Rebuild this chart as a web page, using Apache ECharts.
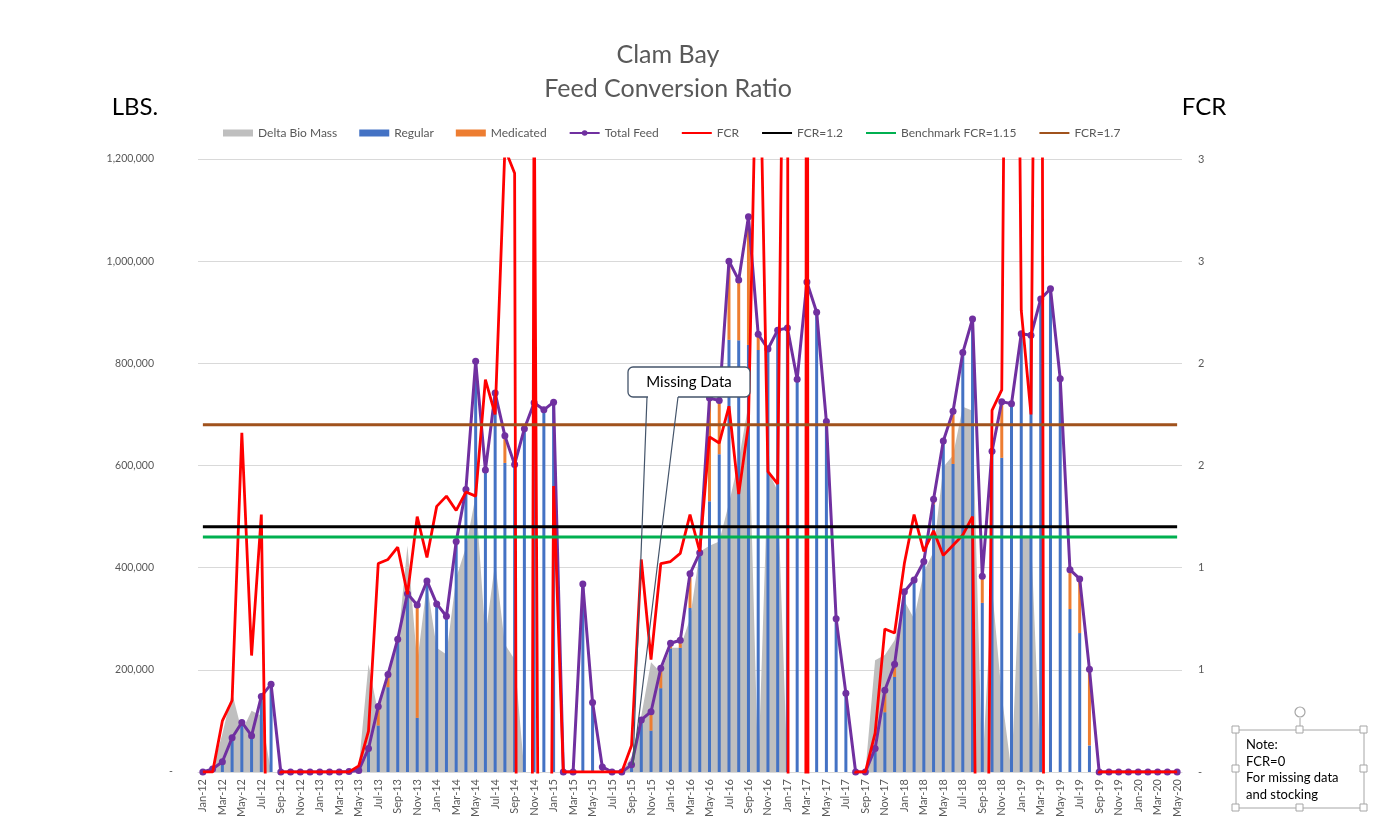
<!DOCTYPE html>
<html>
<head>
<meta charset="utf-8">
<script src="https://cdn.jsdelivr.net/npm/echarts@6/dist/echarts.min.js"></script>
<style>
html, body { margin: 0; padding: 0; background: #fff; }
#main { width: 1383px; height: 832px; }
</style>
</head>
<body>
<div id="main"></div>
<script>
var months = [
    'Jan-12','Feb-12','Mar-12','Apr-12','May-12','Jun-12','Jul-12','Aug-12','Sep-12','Oct-12','Nov-12','Dec-12',
    'Jan-13','Feb-13','Mar-13','Apr-13','May-13','Jun-13','Jul-13','Aug-13','Sep-13','Oct-13','Nov-13','Dec-13',
    'Jan-14','Feb-14','Mar-14','Apr-14','May-14','Jun-14','Jul-14','Aug-14','Sep-14','Oct-14','Nov-14','Dec-14',
    'Jan-15','Feb-15','Mar-15','Apr-15','May-15','Jun-15','Jul-15','Aug-15','Sep-15','Oct-15','Nov-15','Dec-15',
    'Jan-16','Feb-16','Mar-16','Apr-16','May-16','Jun-16','Jul-16','Aug-16','Sep-16','Oct-16','Nov-16','Dec-16',
    'Jan-17','Feb-17','Mar-17','Apr-17','May-17','Jun-17','Jul-17','Aug-17','Sep-17','Oct-17','Nov-17','Dec-17',
    'Jan-18','Feb-18','Mar-18','Apr-18','May-18','Jun-18','Jul-18','Aug-18','Sep-18','Oct-18','Nov-18','Dec-18',
    'Jan-19','Feb-19','Mar-19','Apr-19','May-19','Jun-19','Jul-19','Aug-19','Sep-19','Oct-19','Nov-19','Dec-19',
    'Jan-20','Feb-20','Mar-20','Apr-20','May-20'
];

// lbs
var deltaBioMass = [
    0, 5000, 75000, 155000, 80000, 120000, 110000, 0, 0, 0, 0, 0,
    0, 0, 0, 0, 10000, 211000, 115000, 200000, 250000, 443000, 215000, 368000,
    243000, 230000, 380000, 440000, 541000, 266000, 410000, 250000, 220000, 0, 0, 0,
    0, 0, 0, 0, 0, 0, 0, 0, 30000, 110000, 215000, 195000,
    243000, 243000, 300000, 431000, 443000, 451000, 526000, 610000, 720000, 0, 590000, 550000,
    0, 0, 0, 0, 0, 0, 0, 0, 0, 219000, 229000, 258000,
    335000, 300000, 392000, 431000, 597000, 620000, 715000, 707000, 0, 360000, 150000, 0,
    463000, 463000, 0, 0, 0, 0, 0, 0, 0, 0, 0, 0,
    0, 0, 0, 0, 0
];

var regular = [
    0, 6000, 20000, 67000, 97000, 71000, 148000, 172000, 0, 0, 0, 0,
    0, 0, 0, 1000, 3000, 46000, 91000, 166000, 260000, 349000, 106000, 374000,
    329000, 305000, 451000, 553000, 804000, 591000, 742000, 605000, 602000, 672000, 723000, 709000,
    724000, 0, 0, 368000, 136000, 10000, 0, 0, 14000, 102000, 81000, 164000,
    242000, 243000, 321000, 429000, 530000, 622000, 846000, 845000, 836000, 826000, 828000, 865000,
    869000, 769000, 959000, 900000, 686000, 300000, 154000, 0, 0, 46000, 117000, 186000,
    353000, 376000, 412000, 524000, 648000, 603000, 821000, 887000, 331000, 628000, 615000, 721000,
    858000, 855000, 926000, 946000, 770000, 319000, 272000, 52000, 0, 0, 0, 0,
    0, 0, 0, 0, 0
];

var medicated = [
    0, 0, 0, 0, 0, 0, 0, 0, 0, 0, 0, 0,
    0, 0, 0, 0, 0, 0, 37000, 25000, 0, 0, 221000, 0,
    0, 0, 0, 0, 0, 0, 0, 53000, 0, 0, 0, 0,
    0, 0, 0, 0, 0, 0, 0, 0, 0, 0, 37000, 39000,
    10000, 15000, 67000, 0, 202000, 105000, 154000, 118000, 251000, 31000, 0, 0,
    0, 0, 0, 0, 0, 0, 0, 0, 0, 0, 43000, 25000,
    0, 0, 0, 10000, 0, 103000, 0, 0, 52000, 0, 110000, 0,
    0, 0, 0, 0, 0, 77000, 106000, 149000, 0, 0, 0, 0,
    0, 0, 0, 0, 0
];

var totalFeed = [
    0, 6000, 20000, 67000, 97000, 71000, 148000, 172000, 0, 0, 0, 0,
    0, 0, 0, 1000, 3000, 46000, 128000, 191000, 260000, 349000, 327000, 374000,
    329000, 305000, 451000, 553000, 804000, 591000, 742000, 658000, 602000, 672000, 723000, 709000,
    724000, 0, 0, 368000, 136000, 10000, 0, 0, 14000, 102000, 118000, 203000,
    252000, 258000, 388000, 429000, 732000, 727000, 1000000, 963000, 1087000, 857000, 828000, 865000,
    869000, 769000, 959000, 900000, 686000, 300000, 154000, 0, 0, 46000, 160000, 211000,
    353000, 376000, 412000, 534000, 648000, 706000, 821000, 887000, 383000, 628000, 725000, 721000,
    858000, 855000, 926000, 946000, 770000, 396000, 378000, 201000, 0, 0, 0, 0,
    0, 0, 0, 0, 0
];

// right axis; values outside 0..3 run off the plot
var fcr = [
    0, 0, 0.25, 0.35, 1.66, 0.57, 1.26, -1.9, 0, 0, 0, 0,
    0, 0, 0, 0, 0.03, 0.2, 1.02, 1.04, 1.10, 0.87, 1.25, 1.05,
    1.30, 1.35, 1.28, 1.37, 1.35, 1.92, 1.75, 3.05, 2.93, -16, 3.5, -6,
    1.4, 0, 0, 0, 0, 0, 0, 0, 0.13, 1.04, 0.55, 1.02,
    1.03, 1.07, 1.26, 1.08, 1.64, 1.61, 1.79, 1.36, 1.7, 4.0, 1.47, 1.41,
    5.7, -80, 10, -80, -5, -5, -5, 0, 0, 0.19, 0.70, 0.68,
    1.02, 1.26, 1.08, 1.18, 1.06, 1.11, 1.16, 1.25, -3.6, 1.77, 1.87, 8,
    2.26, 1.75, 8, -20, -5, -5, -5, -5, 0, 0, 0, 0,
    0, 0, 0, 0, 0
];

var fcrTarget = 1.2;
var fcrBenchmark = 1.15;
var fcrHigh = 1.7;

function flat(v) {
    return months.map(function () { return v; });
}

var font = 'Lato';
var grey = '#595959';
var noDot = { opacity: 0 };

var myChart = echarts.init(document.getElementById('main'));

var option = {
    animation: false,
    backgroundColor: '#fff',
    legend: {
        left: 218,
        top: 122,
        itemWidth: 30,
        itemHeight: 7,
        itemGap: 22,
        textStyle: { fontFamily: font, fontSize: 12, color: grey },
        data: [
            { name: 'Delta Bio Mass', icon: 'rect' },
            { name: 'Regular', icon: 'rect' },
            { name: 'Medicated', icon: 'rect' },
            { name: 'Total Feed' },
            { name: 'FCR', itemStyle: noDot },
            { name: 'FCR=1.2', itemStyle: noDot },
            { name: 'Benchmark FCR=1.15', itemStyle: noDot },
            { name: 'FCR=1.7', itemStyle: noDot }
        ]
    },
    grid: { left: 198, right: 201, top: 159, bottom: 60 },
    xAxis: {
        type: 'category',
        data: months,
        boundaryGap: true,
        axisTick: { show: false },
        axisLine: { lineStyle: { color: '#D9D9D9' } },
        axisLabel: { rotate: 90, interval: 1, fontFamily: font, fontSize: 11, color: grey, margin: 7 }
    },
    yAxis: [{
        type: 'value',
        min: 0, max: 1200000, interval: 200000,
        axisLine: { show: false },
        axisTick: { show: false },
        splitLine: { lineStyle: { color: '#D9D9D9' } },
        axisLabel: {
            margin: 24,
            formatter: function (v) {
                if (v === 0) return '{t|-}{z|\u00a0}';
                return '{t|' + v.toLocaleString('en-US') + '}{s|\u00a0}';
            },
            rich: {
                t: { fontFamily: font, fontSize: 10.5, color: grey },
                s: { width: 20 },
                z: { width: 1 }
            }
        }
    }, {
        type: 'value',
        position: 'right',
        min: 0, max: 3, interval: 0.5,
        axisLine: { show: false },
        axisTick: { show: false },
        splitLine: { show: false },
        axisLabel: {
            margin: 16,
            fontFamily: font, fontSize: 11, color: grey,
            formatter: function (v) { return v === 0 ? '-' : String(Math.round(v)); }
        }
    }],
    series: [{
        name: 'Delta Bio Mass',
        type: 'line',
        z: 1,
        data: deltaBioMass,
        symbol: 'none',
        lineStyle: { width: 0 },
        itemStyle: { color: '#BFBFBF' },
        areaStyle: { color: '#BFBFBF', opacity: 1 }
    }, {
        name: 'Regular',
        type: 'bar',
        z: 3,
        stack: 'feed',
        barWidth: 3,
        data: regular,
        itemStyle: { color: '#4472C4' }
    }, {
        name: 'Medicated',
        type: 'bar',
        z: 3,
        stack: 'feed',
        barWidth: 3,
        data: medicated,
        itemStyle: { color: '#ED7D31' }
    }, {
        name: 'Total Feed',
        type: 'line',
        z: 4,
        data: totalFeed,
        symbol: 'circle',
        symbolSize: 7,
        showAllSymbol: true,
        itemStyle: { color: '#7030A0' },
        lineStyle: { width: 3, color: '#7030A0' }
    }, {
        name: 'FCR',
        type: 'line',
        z: 5,
        yAxisIndex: 1,
        data: fcr,
        symbol: 'none',
        clip: true,
        itemStyle: { color: '#FF0000' },
        lineStyle: { width: 2.8, color: '#FF0000' }
    }, {
        name: 'FCR=1.2',
        type: 'line',
        z: 6,
        yAxisIndex: 1,
        data: flat(fcrTarget),
        symbol: 'none',
        itemStyle: { color: '#000000' },
        lineStyle: { width: 3, color: '#000000' }
    }, {
        name: 'Benchmark FCR=1.15',
        type: 'line',
        z: 6,
        yAxisIndex: 1,
        data: flat(fcrBenchmark),
        symbol: 'none',
        itemStyle: { color: '#00B050' },
        lineStyle: { width: 3, color: '#00B050' }
    }, {
        name: 'FCR=1.7',
        type: 'line',
        z: 6,
        yAxisIndex: 1,
        data: flat(fcrHigh),
        symbol: 'none',
        itemStyle: { color: '#A0521C' },
        lineStyle: { width: 3, color: '#A0521C' }
    }],
    graphic: [
        { type: 'text', x: 668, y: 55, style: { text: 'Clam Bay', font: '25px ' + font, fill: grey, textAlign: 'center', textVerticalAlign: 'middle' } },
        { type: 'text', x: 668, y: 89, style: { text: 'Feed Conversion Ratio', font: '25px ' + font, fill: grey, textAlign: 'center', textVerticalAlign: 'middle' } },
        { type: 'text', x: 135, y: 107, style: { text: 'LBS.', font: '24px ' + font, fill: '#000', textAlign: 'center', textVerticalAlign: 'middle' } },
        { type: 'text', x: 1204, y: 107, style: { text: 'FCR', font: '24px ' + font, fill: '#000', textAlign: 'center', textVerticalAlign: 'middle' } },
        // "Missing Data" callout
        { type: 'rect', z: 100, shape: { x: 628, y: 367, width: 122, height: 30, r: 5 }, style: { fill: '#fff', stroke: '#44546A', lineWidth: 1.3 } },
        { type: 'line', z: 101, shape: { x1: 648, y1: 397, x2: 678, y2: 397 }, style: { stroke: '#fff', lineWidth: 2.5 } },
        { type: 'polyline', z: 101, shape: { points: [[647, 397], [633, 765], [678, 397]] }, style: { fill: null, stroke: '#44546A', lineWidth: 1.2 } },
        { type: 'text', z: 102, x: 689, y: 382, style: { text: 'Missing Data', font: '15px ' + font, fill: '#000', textAlign: 'center', textVerticalAlign: 'middle' } },
        // note text box with its selection handles
        { type: 'rect', z: 100, shape: { x: 1236, y: 730, width: 128, height: 78 }, style: { fill: '#fff', stroke: '#A6A6A6', lineWidth: 1 } },
        { type: 'line', z: 100, shape: { x1: 1300, y1: 718, x2: 1300, y2: 730 }, style: { stroke: '#A6A6A6', lineWidth: 1 } },
        { type: 'circle', z: 100, shape: { cx: 1300, cy: 712, r: 5 }, style: { fill: '#fff', stroke: '#A6A6A6', lineWidth: 1.2 } },
        { type: 'rect', z: 101, shape: { x: 1232, y: 726, width: 7, height: 7 }, style: { fill: '#fff', stroke: '#A6A6A6' } },
        { type: 'rect', z: 101, shape: { x: 1296, y: 726, width: 7, height: 7 }, style: { fill: '#fff', stroke: '#A6A6A6' } },
        { type: 'rect', z: 101, shape: { x: 1360, y: 726, width: 7, height: 7 }, style: { fill: '#fff', stroke: '#A6A6A6' } },
        { type: 'rect', z: 101, shape: { x: 1232, y: 765, width: 7, height: 7 }, style: { fill: '#fff', stroke: '#A6A6A6' } },
        { type: 'rect', z: 101, shape: { x: 1360, y: 765, width: 7, height: 7 }, style: { fill: '#fff', stroke: '#A6A6A6' } },
        { type: 'rect', z: 101, shape: { x: 1232, y: 804, width: 7, height: 7 }, style: { fill: '#fff', stroke: '#A6A6A6' } },
        { type: 'rect', z: 101, shape: { x: 1296, y: 804, width: 7, height: 7 }, style: { fill: '#fff', stroke: '#A6A6A6' } },
        { type: 'rect', z: 101, shape: { x: 1360, y: 804, width: 7, height: 7 }, style: { fill: '#fff', stroke: '#A6A6A6' } },
        { type: 'text', z: 102, x: 1246, y: 737, style: { text: 'Note:\nFCR=0\nFor missing data\nand stocking', font: '13px ' + font, fill: '#000', lineHeight: 16.5 } }
    ]
};

myChart.setOption(option);
</script>
</body>
</html>
